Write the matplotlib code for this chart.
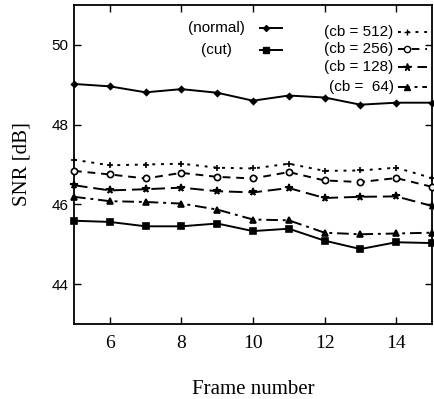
import matplotlib
matplotlib.use('Agg')
import matplotlib.pyplot as plt

frames = [5, 6, 7, 8, 9, 10, 11, 12, 13, 14, 15]

snr_normal = [49.02, 48.96, 48.81, 48.89, 48.80, 48.60, 48.73, 48.68, 48.50, 48.55, 48.55]
snr_cut = [45.59, 45.56, 45.45, 45.45, 45.52, 45.33, 45.39, 45.09, 44.88, 45.05, 45.03]
snr_cb512 = [47.12, 46.98, 47.00, 47.02, 46.92, 46.90, 47.02, 46.84, 46.85, 46.92, 46.66]
snr_cb256 = [46.84, 46.75, 46.65, 46.79, 46.69, 46.65, 46.81, 46.60, 46.56, 46.66, 46.44]
snr_cb128 = [46.48, 46.35, 46.38, 46.42, 46.33, 46.30, 46.41, 46.16, 46.19, 46.20, 45.96]
snr_cb64 = [46.19, 46.08, 46.06, 46.02, 45.87, 45.62, 45.60, 45.29, 45.25, 45.27, 45.29]

xticks = [6, 8, 10, 12, 14]
yticks = [44, 46, 48, 50]

sans = 'Liberation Sans'
serif = 'Liberation Serif'

fig = plt.figure(figsize=(4.35, 3.99), dpi=100)
ax = fig.add_axes([74 / 435, 1 - 324 / 399, 358 / 435, 319 / 399])

# series: (values, linestyle, marker, facecolor, marker size)
series = [
    (snr_normal, '-', 'D', 'black', 3),
    (snr_cut, '-', 's', 'black', 4),
    (snr_cb512, (0, (1.5, 3)), '+', 'black', 5),
    (snr_cb256, (0, (4, 3)), 'o', 'white', 4.5),
    (snr_cb128, (0, (7, 3)), '*', 'black', 5.5),
    (snr_cb64, (0, (6, 2.5, 1.5, 2.5)), '^', 'black', 4.5),
]
for vals, ls, mk, fc, ms in series:
    ax.plot(frames, vals, color='black', linestyle=ls, linewidth=1.4,
            marker=mk, markersize=ms, markerfacecolor=fc,
            markeredgecolor='black', markeredgewidth=1.2, clip_on=False, zorder=3)

ax.set_xlim(5, 15)
ax.set_ylim(43, 51)
ax.set_xticks(xticks)
ax.set_yticks(yticks)
ax.tick_params(direction='in', length=5, width=1, top=True, right=True)
for lab in ax.get_xticklabels():
    lab.set_fontfamily(serif)
    lab.set_fontsize(14)
for lab in ax.get_yticklabels():
    lab.set_fontfamily(sans)
    lab.set_fontsize(11)
ax.tick_params(axis='x', pad=8)
ax.tick_params(axis='y', pad=4)
for sp in ax.spines.values():
    sp.set_linewidth(1.3)

ax.set_xlabel('Frame number', fontfamily=serif, fontsize=15, labelpad=20)
ax.set_ylabel('SNR [dB]', fontfamily=serif, fontsize=15, labelpad=14)

# key, drawn by hand like the original (text then line sample)
left_key = [('(normal)', 0), ('(cut)', 1)]
for (label, i), y in zip(left_key, [0.928, 0.859]):
    vals, ls, mk, fc, ms = series[i]
    ax.text(0.398, y, label, transform=ax.transAxes, ha='center', va='center',
            fontfamily=sans, fontsize=11)
    ax.plot([0.520, 0.580], [y, y], transform=ax.transAxes, color='black',
            linestyle=ls, linewidth=1.4, clip_on=False)
    ax.plot([0.537], [y], transform=ax.transAxes, marker=mk, markersize=ms,
            markerfacecolor=fc, markeredgecolor='black', color='black', clip_on=False)

right_key = [('(cb = 512)', 2), ('(cb = 256)', 3), ('(cb = 128)', 4), ('(cb =  64)', 5)]
for (label, i), y in zip(right_key, [0.915, 0.863, 0.807, 0.743]):
    vals, ls, mk, fc, ms = series[i]
    ax.text(0.893, y, label, transform=ax.transAxes, ha='right', va='center',
            fontfamily=sans, fontsize=11)
    ax.plot([0.905, 0.985], [y, y], transform=ax.transAxes, color='black',
            linestyle=ls, linewidth=1.4, clip_on=False)
    ax.plot([0.93], [y], transform=ax.transAxes, marker=mk, markersize=ms,
            markerfacecolor=fc, markeredgecolor='black', color='black', clip_on=False)

fig.savefig('out.png', dpi=100)
